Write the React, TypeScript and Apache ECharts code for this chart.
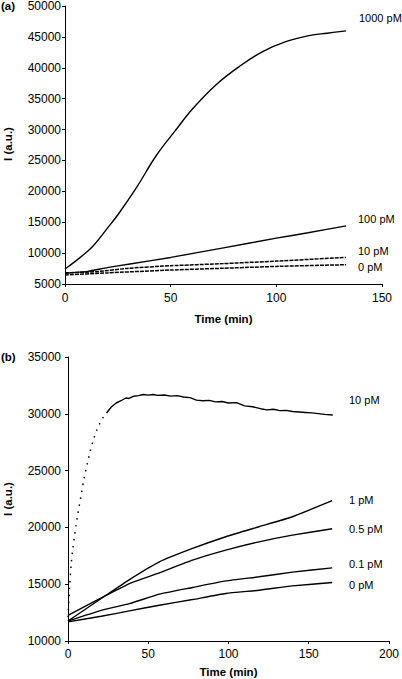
import React, { useEffect, useRef } from "react";
import * as echarts from "echarts";

const FONT = '"Liberation Sans", Arial, Helvetica, sans-serif';

// Panel (a): time (min) and intensity (a.u.)
const tA1000 = [0, 5, 10, 13.4, 20, 25.2, 33.8, 43.2, 51.9, 60.5, 71.5, 82.5, 93.5, 104.5, 115.5, 124, 133];
const vA1000 = [7420, 8700, 10100, 11180, 14000, 16290, 20590, 25800, 29700, 33400, 37260, 40210, 42630, 44240, 45210, 45600, 45970];
const tA100 = [0, 10, 20, 30, 50, 75, 100, 115, 133];
const vA100 = [6750, 7000, 7650, 8200, 9300, 10850, 12420, 13300, 14410];
const tA10 = [0, 15, 30, 50, 75, 100, 133];
const vA10 = [6800, 7000, 7550, 7960, 8300, 8710, 9300];
const tA0 = [0, 20, 50, 75, 100, 133];
const vA0 = [6450, 6800, 7260, 7550, 7850, 8120];
const labelsA = ["1000 pM", "100 pM", "10 pM", "0 pM"];

// Panel (b)
const tB10rise = [0, 1, 2, 3, 4, 5, 6, 7, 8, 10, 12, 14, 16, 18, 20, 22, 24];
const vB10rise = [12100, 14700, 16800, 18100, 19200, 20200, 21100, 21900, 22700, 24300, 25600, 26800, 27800, 28600, 29200, 29700, 30070];
const tB10plat = [24, 27, 30, 33, 36, 38, 41, 44, 47, 50, 53, 56, 60, 64, 68, 72, 76, 80, 84, 88, 92, 96, 100, 105, 110, 115, 120, 124, 128, 132, 136, 140, 144, 148, 152, 156, 160, 165];
const vB10plat = [30070, 30600, 30950, 31150, 31390, 31350, 31550, 31600, 31700, 31640, 31700, 31620, 31660, 31560, 31600, 31480, 31420, 31200, 31150, 31180, 31050, 31080, 30950, 30980, 30700, 30620, 30450, 30350, 30400, 30280, 30300, 30200, 30160, 30120, 30080, 30020, 29950, 29890];
const tB = [0, 20.7, 38.3, 56.9, 77.6, 98.3, 119, 139.8, 164.6];
const vB1 = [11760, 13740, 15410, 16970, 18150, 19180, 20060, 20940, 22350];
const vB05 = [12260, 13800, 15060, 16000, 17120, 18000, 18730, 19320, 19880];
const vB01 = [11760, 12700, 13290, 14120, 14710, 15290, 15650, 16060, 16440];
const vB0 = [11680, 12180, 12650, 13150, 13650, 14180, 14470, 14850, 15150];
const labelsB = ["10 pM", "1 pM", "0.5 pM", "0.1 pM", "0 pM"];

const pairs = (t: number[], v: number[]) => t.map((x, i) => [x, v[i]]);

function axisX(grid: number, max: number, margin: number, gap: number) {
  return {
    gridIndex: grid,
    type: "value",
    min: 0,
    max,
    interval: 50,
    name: "Time (min)",
    nameLocation: "middle",
    nameGap: gap,
    nameTextStyle: { fontWeight: "bold", fontSize: 11.5, color: "#000", fontFamily: FONT },
    axisLine: { lineStyle: { color: "#000", width: 1 } },
    axisTick: { length: 3, lineStyle: { color: "#000" } },
    axisLabel: { color: "#000", fontSize: 12, margin, fontFamily: FONT, formatter: (v: number) => String(v) },
    splitLine: { show: false },
  };
}
function axisY(grid: number, min: number, max: number, margin: number) {
  return {
    gridIndex: grid,
    type: "value",
    min,
    max,
    interval: 5000,
    axisLine: { show: true, lineStyle: { color: "#000", width: 1 } },
    axisTick: { show: true, length: 3, lineStyle: { color: "#000" } },
    axisLabel: { color: "#000", fontSize: 12, margin, fontFamily: FONT, formatter: (v: number) => String(v) },
    splitLine: { show: false },
  };
}

function line(name: string, data: number[][], xi: number, dash: any = "solid", width = 1.4, smooth: any = 0.15) {
  return {
    name,
    type: "line",
    xAxisIndex: xi,
    yAxisIndex: xi,
    data,
    smooth,
    showSymbol: false,
    symbol: "none",
    lineStyle: { color: "#000", width, type: dash },
    silent: true,
  };
}

function txt(text: string, x: number, y: number, opts: any = {}) {
  return {
    type: "text",
    x,
    y,
    rotation: opts.rotation || 0,
    style: {
      text,
      fill: "#000",
      font: `${opts.bold ? "bold " : ""}${opts.size || 11.5}px ${FONT}`,
      align: opts.align || "left",
      verticalAlign: "middle",
    },
  };
}

export default function App() {
  const ref = useRef<HTMLDivElement>(null);
  useEffect(() => {
    if (!ref.current) return;
    const chart = echarts.init(ref.current, undefined, { renderer: "svg" });
    chart.setOption({
      animation: false,
      backgroundColor: "#fff",
      grid: [
        { left: 65, top: 5, width: 317, height: 279 },
        { left: 68, top: 357, width: 322, height: 284 },
      ],
      xAxis: [axisX(0, 150, 8, 29), axisX(1, 200, 7, 25)],
      yAxis: [axisY(0, 5000, 50000, 4), axisY(1, 10000, 35000, 7)],
      series: [
        line(labelsA[0], pairs(tA1000, vA1000), 0, "solid", 1.4, 0.4),
        line(labelsA[1], pairs(tA100, vA100), 0),
        line(labelsA[2], pairs(tA10, vA10), 0, [4, 1], 1.5),
        line(labelsA[3], pairs(tA0, vA0), 0, [4, 1], 1.5),
        line(labelsB[0], pairs(tB10rise, vB10rise), 1, [1.5, 5.5], 1.5, 0.3),
        line(labelsB[0] + " ", pairs(tB10plat, vB10plat), 1, "solid", 1.4, false),
        line(labelsB[1], pairs(tB, vB1), 1),
        line(labelsB[2], pairs(tB, vB05), 1),
        line(labelsB[3], pairs(tB, vB01), 1),
        line(labelsB[4], pairs(tB, vB0), 1),
      ],
      graphic: [
        txt("(a)", 1, 6, { bold: true }),
        txt("(b)", 1, 357, { bold: true }),
        txt("I (a.u.)", 8, 144, { bold: true, rotation: Math.PI / 2, align: "center" }),
        txt("I (a.u.)", 8, 499, { bold: true, rotation: Math.PI / 2, align: "center" }),
        txt(labelsA[0], 359, 18, { size: 11 }),
        txt(labelsA[1], 358, 219, { size: 11 }),
        txt(labelsA[2], 358, 251, { size: 11 }),
        txt(labelsA[3], 358, 267, { size: 11 }),
        txt(labelsB[0], 349, 400, { size: 11 }),
        txt(labelsB[1], 349, 500, { size: 11 }),
        txt(labelsB[2], 349, 529, { size: 11 }),
        txt(labelsB[3], 349, 564, { size: 11 }),
        txt(labelsB[4], 349, 585, { size: 11 }),
      ],
    });
    return () => chart.dispose();
  }, []);
  return (
    <div
      ref={ref}
      style={{ position: "absolute", left: 0, top: 0, width: 402, height: 679, background: "#fff" }}
    />
  );
}
